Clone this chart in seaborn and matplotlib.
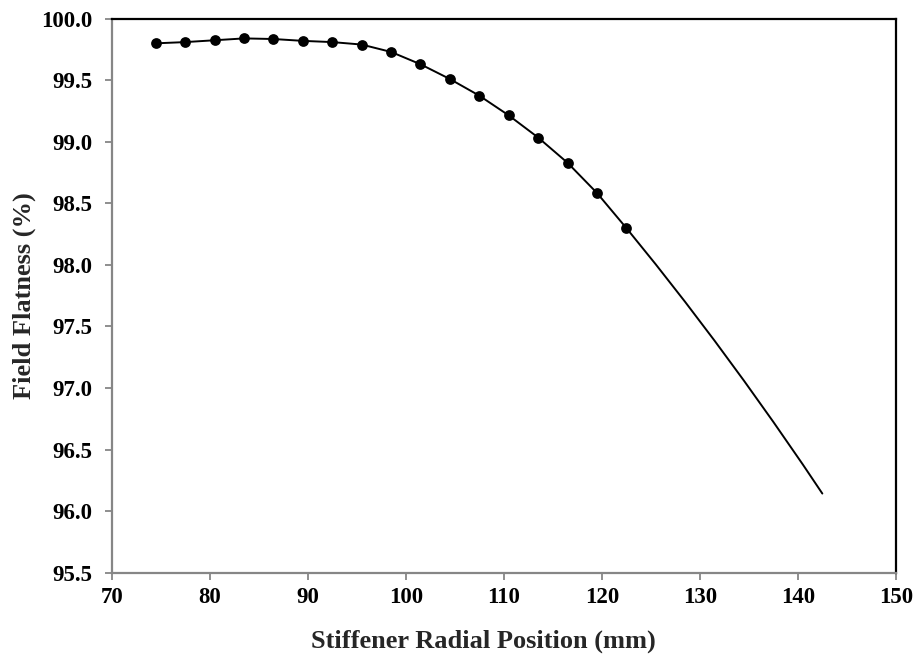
import numpy as np
import pandas as pd
import matplotlib
matplotlib.use("Agg")
import matplotlib.pyplot as plt
import seaborn as sns

radial_position_mm = [74.5, 77.5, 80.5, 83.5, 86.5, 89.5, 92.5, 95.5, 98.5,
                      101.5, 104.5, 107.5, 110.5, 113.5, 116.5, 119.5, 122.5]
field_flatness_pct = [99.80, 99.81, 99.825, 99.84, 99.835, 99.82, 99.81, 99.79, 99.73,
                      99.63, 99.51, 99.375, 99.215, 99.035, 98.83, 98.585, 98.30]

# Continuation of the curve beyond the last marker (line only)
extension_mm = [125.5, 128.5, 131.5, 134.5, 137.5, 140.5, 142.5]
extension_pct = [98.005, 97.70, 97.385, 97.06, 96.725, 96.38, 96.143]

x_ticks = [70, 80, 90, 100, 110, 120, 130, 140, 150]
y_ticks = [95.5, 96.0, 96.5, 97.0, 97.5, 98.0, 98.5, 99.0, 99.5, 100.0]

sns.set_theme(style="white")
plt.rcParams['font.family'] = ['Liberation Serif', 'DejaVu Serif']
plt.rcParams['font.weight'] = 'bold'

df = pd.DataFrame({"x": radial_position_mm, "y": field_flatness_pct})
line_df = pd.DataFrame({"x": radial_position_mm + extension_mm,
                        "y": field_flatness_pct + extension_pct})

fig = plt.figure(figsize=(9.16, 6.54), dpi=100)
ax = fig.add_axes([0.122, 0.1243, 0.856, 0.8471])

sns.lineplot(data=line_df, x="x", y="y", ax=ax, color="black", linewidth=1.4,
             sort=True, estimator=None)
sns.scatterplot(data=df, x="x", y="y", ax=ax, color="black", s=60,
                edgecolor="black", linewidth=0, zorder=3)

ax.set_xlim(70, 150)
ax.set_ylim(95.5, 100.0)
ax.set_xticks(x_ticks)
ax.set_yticks(y_ticks)
ax.set_xticklabels([str(v) for v in x_ticks])
ax.set_yticklabels([f"{v:.1f}" for v in y_ticks])

for s in ["left", "bottom"]:
    ax.spines[s].set_color("#868686")
    ax.spines[s].set_linewidth(1.6)
for s in ["top", "right"]:
    ax.spines[s].set_color("black")
    ax.spines[s].set_linewidth(1.6)

ax.tick_params(axis="both", which="major", direction="out", length=5, width=1.3,
               color="#868686", labelsize=16.5, labelcolor="black")
ax.tick_params(axis="y", pad=9)
ax.tick_params(axis="x", pad=5)
ax.tick_params(axis="both", bottom=True, left=True)
for lab in ax.get_xticklabels() + ax.get_yticklabels():
    lab.set_fontweight("bold")

ax.set_xlabel("Stiffener Radial Position (mm)", fontsize=19, fontweight="bold")
ax.set_ylabel("Field Flatness (%)", fontsize=19, fontweight="bold")
ax.xaxis.set_label_coords(0.4734, -0.103)
ax.yaxis.set_label_coords(-0.096, 0.5)

fig.savefig("out.png", dpi=100, facecolor="white")
